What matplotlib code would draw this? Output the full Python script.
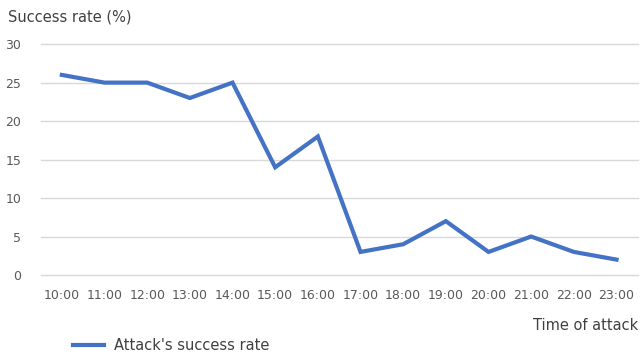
import matplotlib
matplotlib.use("Agg")
import matplotlib.pyplot as plt
from matplotlib.lines import Line2D

# Attack success rate by hour
hours = ["10:00", "11:00", "12:00", "13:00", "14:00", "15:00", "16:00",
         "17:00", "18:00", "19:00", "20:00", "21:00", "22:00", "23:00"]
success_rate = [26, 25, 25, 23, 25, 14, 18, 3, 4, 7, 3, 5, 3, 2]
y_ticks = [0, 5, 10, 15, 20, 25, 30]

line_color = "#4472C4"
text_color = "#595959"

fig = plt.figure(figsize=(6.43, 3.56), dpi=100)
ax = fig.add_axes([0.063, 0.2275, 0.929, 0.6485])

x = range(len(hours))
ax.plot(x, success_rate, color=line_color, linewidth=3.0, solid_joinstyle="miter")

ax.set_xlim(-0.5, len(hours) - 0.5)
ax.set_ylim(0, 30)
ax.set_yticks(y_ticks)
ax.set_xticks(list(x))
ax.set_xticklabels(hours)
ax.tick_params(axis="both", length=0, labelsize=9, colors=text_color)
ax.tick_params(axis="x", pad=10)
ax.tick_params(axis="y", pad=14)

ax.grid(axis="y", color="#D9D9D9", linewidth=1)
for gl in ax.get_ygridlines():
    gl.set_clip_on(False)
ax.set_axisbelow(True)
for s in ax.spines.values():
    s.set_visible(False)

fig.text(0.012, 0.952, "Success rate (%)", fontsize=10.5, color="#404040",
         ha="left", va="center")
fig.text(0.992, 0.085, "Time of attack", fontsize=10.5, color="#404040",
         ha="right", va="center")

handle = Line2D([], [], color=line_color, linewidth=3.0)
fig.legend([handle], ["Attack's success rate"], loc="center left",
           bbox_to_anchor=(0.093, 0.03), frameon=False, fontsize=10.5,
           handlelength=2.1, handletextpad=0.7, labelcolor="#404040")

fig.savefig("out.png", dpi=100)
